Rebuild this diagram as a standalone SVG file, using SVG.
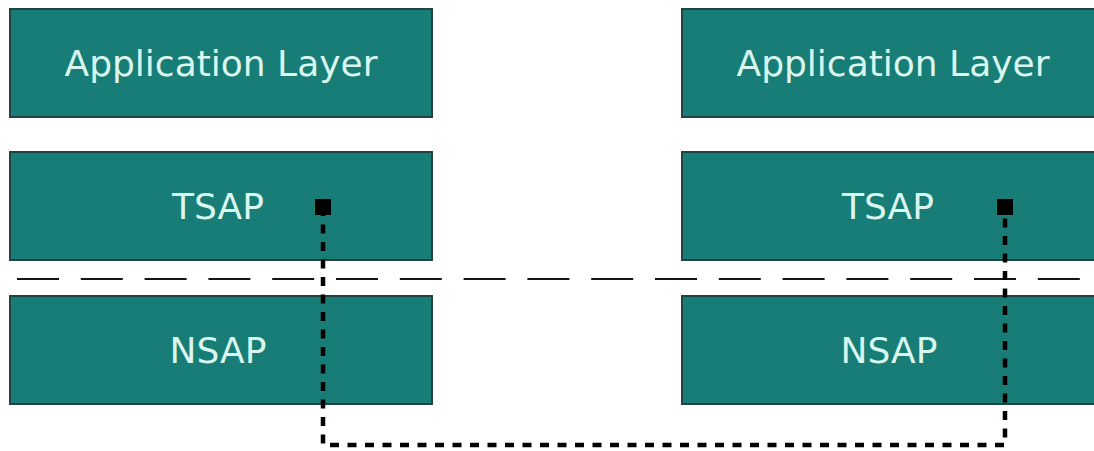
<svg xmlns="http://www.w3.org/2000/svg" width="1094" height="451" viewBox="0 0 1094 451">
<style>
.box{fill:#177d76;stroke:#22433f;stroke-width:2}
.lbl{font-family:"DejaVu Sans",Verdana,sans-serif;font-size:36px;fill:#d9f7ee;text-anchor:middle}
.sep{stroke:#151515;stroke-width:2;stroke-dasharray:42 21.8;fill:none}
.link{stroke:#000;stroke-width:4.5;stroke-dasharray:9 8.5;fill:none}
</style>
<defs>
<marker id="sq" markerUnits="userSpaceOnUse" markerWidth="18" markerHeight="18" refX="9" refY="9" orient="0">
<rect x="1" y="1" width="16" height="16" fill="#000"/>
</marker>
</defs>
<rect width="1094" height="451" fill="#fff"/>
<g id="app-left"><rect class="box" x="10" y="9" width="422" height="108"/><text class="lbl" x="221" y="76">Application Layer</text></g>
<g id="tsap-left"><rect class="box" x="10" y="152" width="422" height="108"/><text class="lbl" x="218" y="219">TSAP</text></g>
<g id="nsap-left"><rect class="box" x="10" y="296" width="422" height="108"/><text class="lbl" x="218" y="363">NSAP</text></g>
<g id="app-right"><rect class="box" x="682" y="9" width="422" height="108"/><text class="lbl" x="893" y="76">Application Layer</text></g>
<g id="tsap-right"><rect class="box" x="682" y="152" width="422" height="108"/><text class="lbl" x="888" y="219">TSAP</text></g>
<g id="nsap-right"><rect class="box" x="682" y="296" width="422" height="108"/><text class="lbl" x="889" y="363">NSAP</text></g>
<g id="boundary"><line class="sep" x1="17" y1="279" x2="1082" y2="279"/></g>
<g id="connectors"><path class="link" d="M323 207 V445 H1005 V207" marker-start="url(#sq)" marker-end="url(#sq)"/></g>
</svg>
